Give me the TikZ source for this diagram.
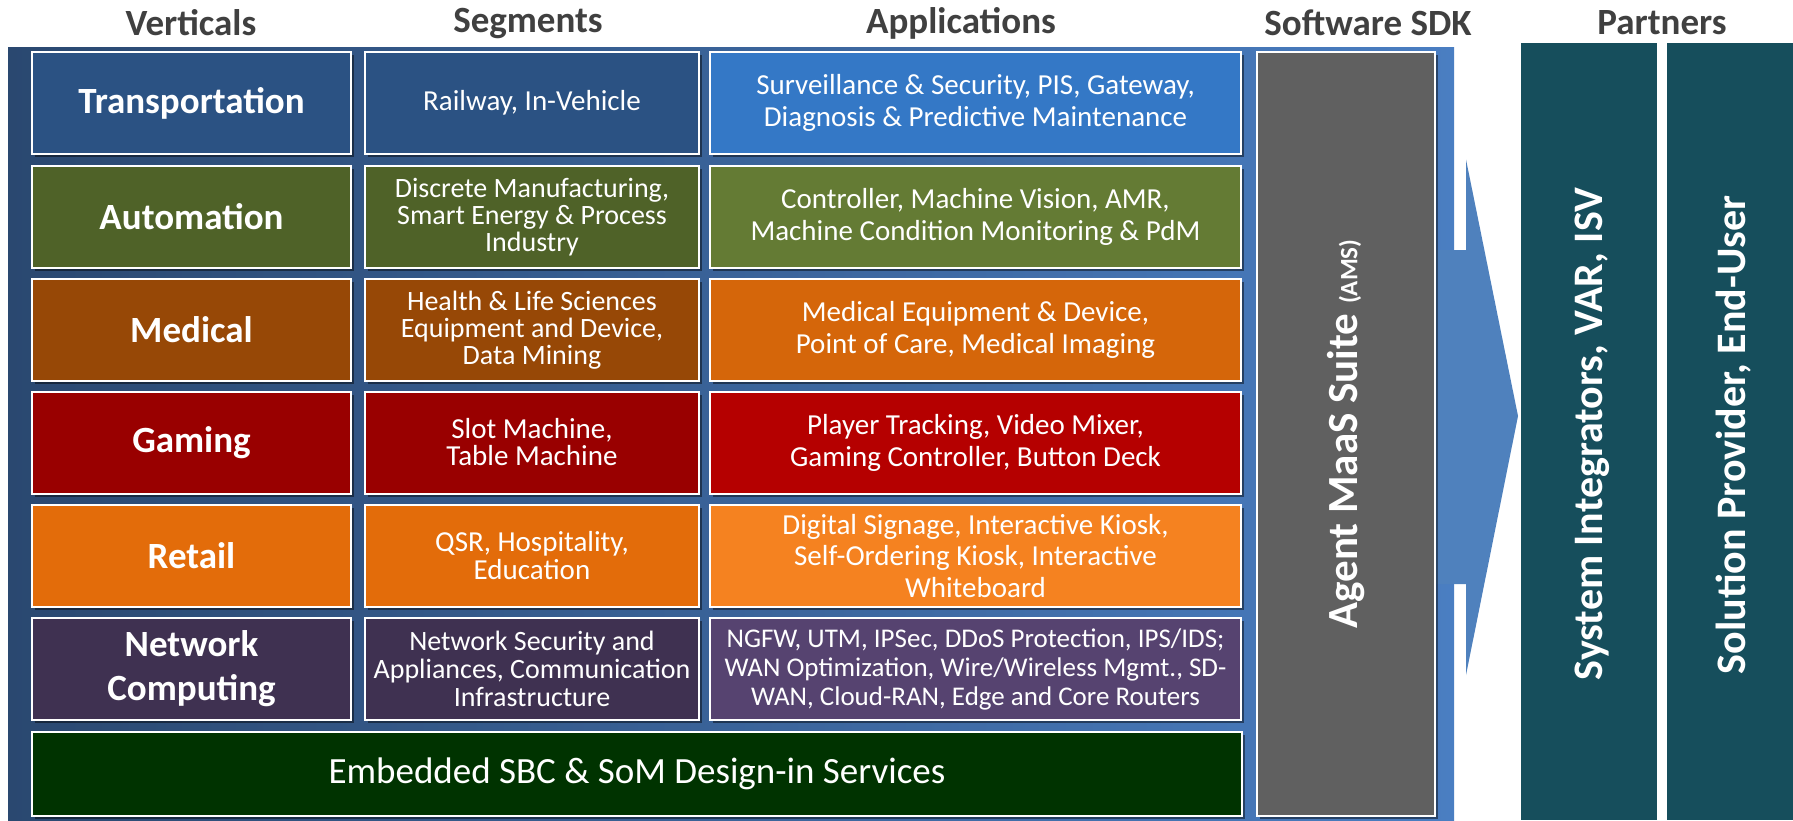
\documentclass[tikz,border=0pt]{standalone}
\usepackage{fontspec}
\setmainfont{Carlito}
\usetikzlibrary{shadows}
\definecolor{bgL}{HTML}{2A4870}
\definecolor{bgR}{HTML}{4A7EC2}
\definecolor{trA}{HTML}{2B5283}
\definecolor{trB}{HTML}{3478C6}
\definecolor{auA}{HTML}{4F6228}
\definecolor{auB}{HTML}{647B34}
\definecolor{meA}{HTML}{974806}
\definecolor{meB}{HTML}{D5660A}
\definecolor{gaA}{HTML}{990000}
\definecolor{gaB}{HTML}{B50000}
\definecolor{reA}{HTML}{E36C0A}
\definecolor{reB}{HTML}{F58220}
\definecolor{neA}{HTML}{3F3151}
\definecolor{neB}{HTML}{564370}
\definecolor{emb}{HTML}{003300}
\definecolor{sdk}{HTML}{606060}
\definecolor{ptn}{HTML}{164E5C}
\definecolor{arr}{HTML}{4F81BD}
\definecolor{hdr}{HTML}{404040}
\begin{document}
\begin{tikzpicture}[x=1pt,y=-1pt,
  cell/.style={draw=white, line width=2pt, text=white, align=center, inner sep=2pt,
    drop shadow={shadow xshift=3pt, shadow yshift=-3pt, opacity=0.45, fill=black}},
  vcell/.style={cell, minimum width=319pt, minimum height=102pt,
    font=\fontsize{37}{40}\selectfont\bfseries},
  scell/.style={cell, minimum width=334pt, minimum height=102pt,
    font=\fontsize{29}{27}\selectfont},
  acell/.style={cell, minimum width=531pt, minimum height=102pt,
    font=\fontsize{29}{32}\selectfont},
  hdrtext/.style={text=hdr, font=\fontsize{37}{40}\selectfont\bfseries, inner sep=0pt},
  ptcol/.style={fill=ptn, draw=none, minimum width=136pt, minimum height=777pt, inner sep=0pt},
  pttext/.style={text=white, rotate=90, font=\fontsize{42}{44}\selectfont\bfseries, inner sep=0pt}
]
\useasboundingbox (0,0) rectangle (1793,820);
\fill[white] (0,0) rectangle (1793,820);
% background panel
\shade[left color=bgL, right color=bgR] (8,47) rectangle (1454,820);
% arrow
\fill[arr] (1436,250) -- (1466,250) -- (1466,159.5) -- (1518,416) -- (1466,675)
  -- (1466,584) -- (1436,584) -- cycle;
% headers
\node[hdrtext] (hV) at (191,23) {Verticals};
\node[hdrtext] (hS) at (528,23) {Segments};
\node[hdrtext] (hA) at (961,23) {Applications};
\node[hdrtext] (hK) at (1368,23) {Software SDK};
\node[hdrtext] (hP) at (1662,23) {Partners};
% rows
\node[vcell, fill=trA] (v1) at (191.5,103) {Transportation};
\node[scell, fill=trA] (s1) at (532,103) {Railway, In-Vehicle};
\node[acell, fill=trB] (a1) at (975.5,103) {Surveillance \& Security, PIS, Gateway,\\Diagnosis \& Predictive Maintenance};

\node[vcell, fill=auA] (v2) at (191.5,217) {Automation};
\node[scell, fill=auA, font=\fontsize{28}{27}\selectfont] (s2) at (532,217) {Discrete Manufacturing,\\Smart Energy \& Process\\Industry};
\node[acell, fill=auB] (a2) at (975.5,217) {Controller, Machine Vision, AMR,\\Machine Condition Monitoring \& PdM};

\node[vcell, fill=meA] (v3) at (191.5,330) {Medical};
\node[scell, fill=meA, font=\fontsize{28}{27}\selectfont] (s3) at (532,330) {Health \& Life Sciences\\Equipment and Device,\\Data Mining};
\node[acell, fill=meB] (a3) at (975.5,330) {Medical Equipment \& Device,\\Point of Care, Medical Imaging};

\node[vcell, fill=gaA] (v4) at (191.5,442.5) {Gaming};
\node[scell, fill=gaA] (s4) at (532,442.5) {Slot Machine,\\Table Machine};
\node[acell, fill=gaB] (a4) at (975.5,442.5) {Player Tracking, Video Mixer,\\Gaming Controller, Button Deck};

\node[vcell, fill=reA] (v5) at (191.5,556) {Retail};
\node[scell, fill=reA, font=\fontsize{29}{28}\selectfont] (s5) at (532,556) {QSR, Hospitality,\\Education};
\node[acell, fill=reB, font=\fontsize{29}{31.5}\selectfont] (a5) at (975.5,556) {Digital Signage, Interactive Kiosk,\\Self-Ordering Kiosk, Interactive\\Whiteboard};

\node[vcell, fill=neA, font=\fontsize{37}{44}\selectfont\bfseries] (v6) at (191.5,669) {Network\\Computing};
\node[scell, fill=neA, font=\fontsize{28}{28}\selectfont] (s6) at (532,669) {Network Security and\\Appliances, Communication\\Infrastructure};
\node[acell, fill=neB, font=\fontsize{27}{29}\selectfont] (a6) at (975.5,669) {NGFW, UTM, IPSec, DDoS Protection, IPS/IDS;\\WAN Optimization, Wire/Wireless Mgmt., SD-\\WAN, Cloud-RAN, Edge and Core Routers};

\node[cell, fill=emb, minimum width=1210pt, minimum height=84pt, font=\fontsize{37}{40}\selectfont] (emb) at (637,774) {Embedded SBC \& SoM Design-in Services};
% SDK
\node[cell, fill=sdk, minimum width=178pt, minimum height=764pt] (sdk) at (1346,434) {};
\node[text=white, rotate=90, font=\fontsize{43}{46}\selectfont\bfseries, inner sep=0pt] (sdkt) at (sdk.center) {Agent MaaS Suite {\fontsize{25}{28}\selectfont (AMS)}};
% partners
\node[ptcol] (p1) at (1589,431.5) {};
\node[ptcol, minimum width=126pt] (p2) at (1730,431.5) {};
\node[pttext] (p1t) at (1592,434) {System Integrators, VAR, ISV};
\node[pttext] (p2t) at (1734,435) {Solution Provider, End-User};
\end{tikzpicture}
\end{document}
